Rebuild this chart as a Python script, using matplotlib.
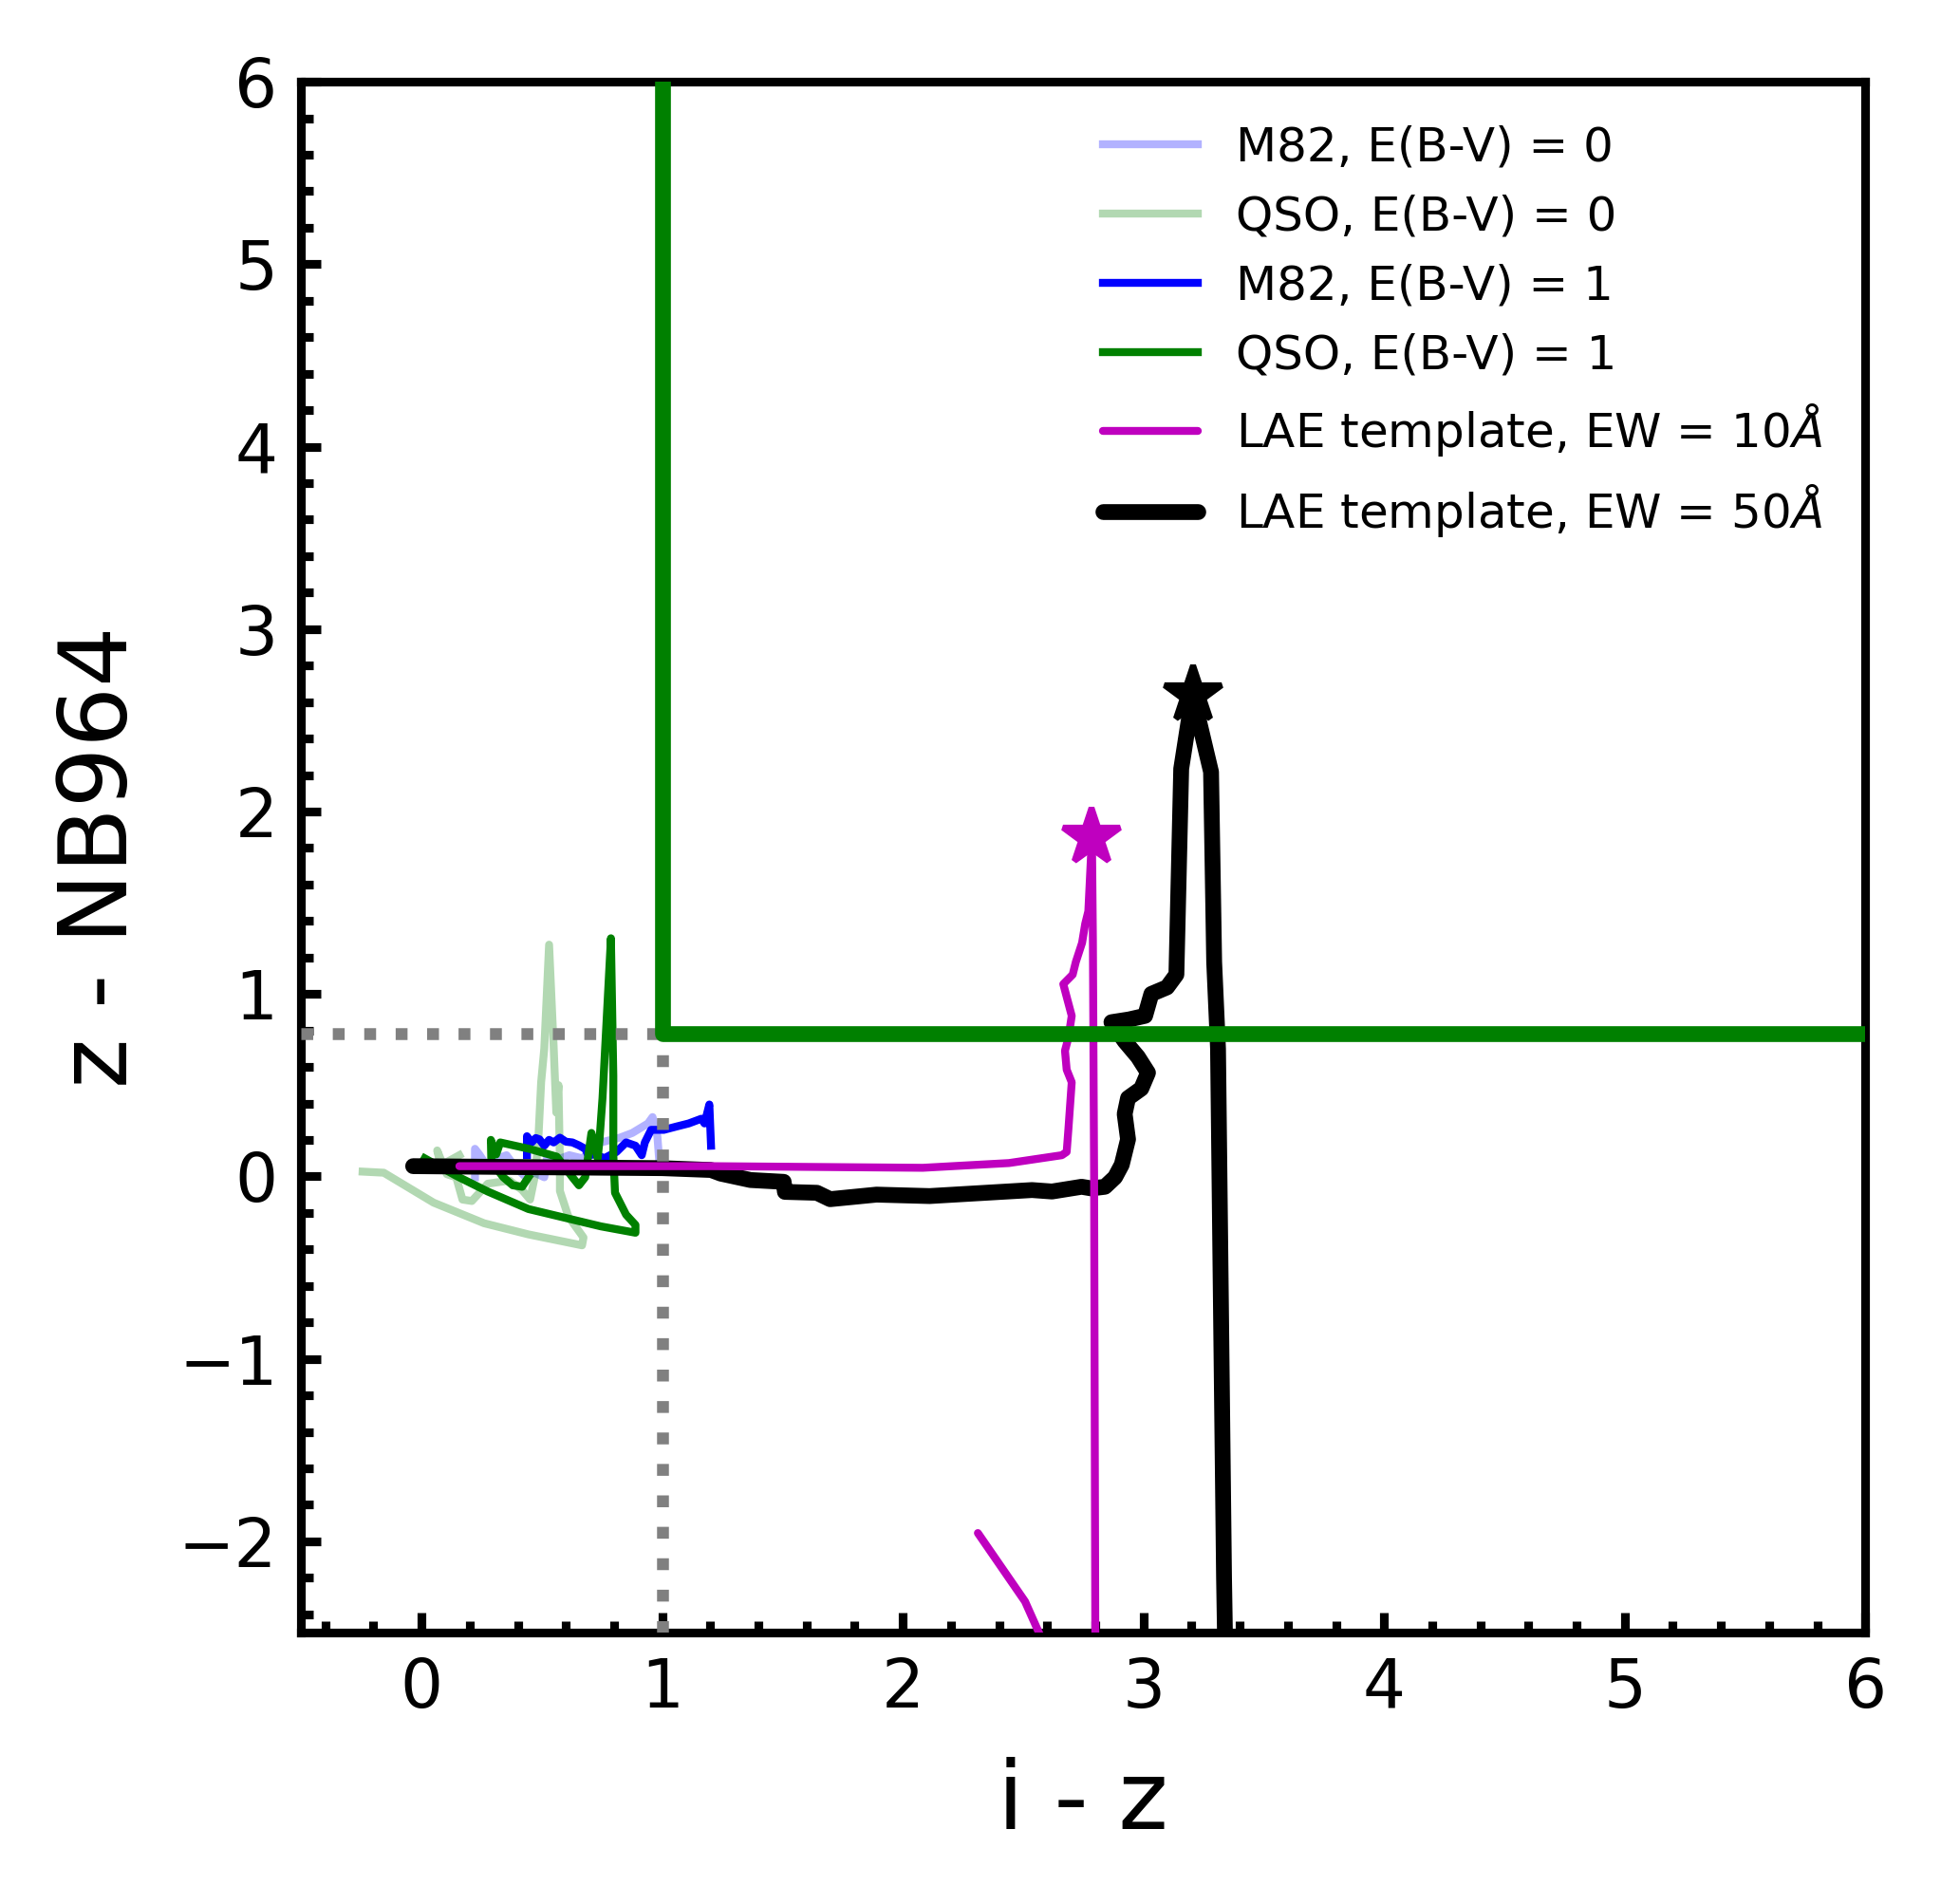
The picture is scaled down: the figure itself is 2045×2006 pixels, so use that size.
import numpy as np
import matplotlib
matplotlib.use("Agg")
import matplotlib.pyplot as plt

# colour tracks (i - z, z - NB964)
m82_e0_x = [0.222, 0.222, 0.24, 0.27, 0.30, 0.353, 0.39, 0.43, 0.47, 0.51, 0.523, 0.56,
            0.614, 0.667, 0.70, 0.745, 0.824, 0.876, 0.941, 0.96, 0.98, 0.987]
m82_e0_y = [-0.005, 0.151, 0.12, 0.06, 0.09, 0.116, 0.05, 0.0, 0.02, -0.005, 0.116, 0.09,
            0.116, 0.099, 0.13, 0.186, 0.212, 0.238, 0.29, 0.325, 0.22, 0.10]

qso_e0_x = [-0.245, -0.157, 0.05, 0.26, 0.444, 0.667, 0.673, 0.61, 0.575, 0.575, 0.569, 0.56,
            0.549, 0.53, 0.51, 0.497, 0.484, 0.47, 0.451, 0.418, 0.366, 0.275, 0.209, 0.17,
            0.144, 0.105, 0.065, 0.08, 0.157]
qso_e0_y = [0.026, 0.02, -0.144, -0.257, -0.318, -0.378, -0.335, -0.22, -0.08, 0.08, 0.5, 0.35,
            0.71, 1.27, 0.70, 0.516, 0.168, -0.005, -0.127, -0.075, -0.023, -0.04, -0.135, -0.127,
            -0.005, 0.012, 0.142, 0.06, 0.116]

m82_e1_x = [0.438, 0.438, 0.457, 0.475, 0.49, 0.51, 0.53, 0.549, 0.575, 0.60, 0.627, 0.654,
            0.68, 0.693, 0.72, 0.76, 0.81, 0.85, 0.889, 0.915, 0.928, 0.954, 1.007, 1.059,
            1.11, 1.163, 1.176, 1.196, 1.203]
m82_e1_y = [0.116, 0.22, 0.186, 0.21, 0.203, 0.168, 0.20, 0.186, 0.212, 0.19, 0.186, 0.17,
            0.151, 0.116, 0.12, 0.10, 0.134, 0.186, 0.168, 0.116, 0.186, 0.255, 0.255, 0.273,
            0.29, 0.316, 0.29, 0.394, 0.168]

qso_e1_x = [0.013, 0.144, 0.275, 0.444, 0.745, 0.889, 0.889, 0.85, 0.804, 0.797, 0.797, 0.787,
            0.77, 0.752, 0.739, 0.732, 0.706, 0.68, 0.654, 0.627, 0.562, 0.45, 0.327, 0.31,
            0.288, 0.29, 0.34, 0.379, 0.418, 0.444]
qso_e1_y = [0.099, 0.003, -0.083, -0.179, -0.274, -0.309, -0.266, -0.21, -0.09, 0.116, 0.55, 1.305,
            0.88, 0.43, 0.19, 0.099, 0.238, -0.005, -0.049, -0.005, 0.108, 0.15, 0.186, 0.12,
            0.20, 0.08, -0.005, -0.049, -0.057, -0.005]

lae10_x = [0.157, 1.2, 2.083, 2.441, 2.661, 2.681, 2.688, 2.702, 2.681, 2.674, 2.688, 2.702,
           2.681, 2.667, 2.706, 2.719, 2.745, 2.758, 2.771, 2.786, 2.79, 2.795, 2.80, 2.80,
           2.65, 2.508, 2.312]
lae10_y = [0.056, 0.056, 0.047, 0.073, 0.116, 0.134, 0.255, 0.516, 0.585, 0.689, 0.759, 0.88,
           0.984, 1.054, 1.106, 1.175, 1.28, 1.384, 1.453, 1.86, 1.3, 0.0, -2.5, -3.2,
           -2.75, -2.33, -1.955]

lae50_x = [-0.035, 0.5, 1.0, 1.203, 1.244, 1.367, 1.505, 1.51, 1.643, 1.698, 1.891, 2.111,
           2.537, 2.62, 2.743, 2.784, 2.84, 2.882, 2.91, 2.936, 2.922, 2.936, 2.991, 3.019,
           2.977, 2.922, 2.867, 2.94, 3.007, 3.033, 3.098, 3.137, 3.157, 3.205, 3.281, 3.294,
           3.31, 3.335, 3.345]
lae50_y = [0.056, 0.05, 0.045, 0.035, 0.015, -0.02, -0.03, -0.085, -0.09, -0.125, -0.1, -0.108,
           -0.075, -0.083, -0.057, -0.066, -0.057, -0.005, 0.064, 0.203, 0.342, 0.429, 0.481, 0.568,
           0.655, 0.741, 0.845, 0.86, 0.88, 1.0, 1.036, 1.106, 2.234, 2.64, 2.217, 1.175,
           0.7, -2.2, -3.0]

lae10_peak = (2.786, 1.86)
lae50_peak = (3.205, 2.64)

# selection cuts
iz_cut = 1.0
znb_cut = 0.78

fig = plt.figure(figsize=(2045 / 300, 2006 / 300), dpi=300)
ax = fig.add_axes([0.1552, 0.1426, 0.8058, 0.8145])

ax.plot(m82_e0_x, m82_e0_y, color="blue", alpha=0.3, lw=2, label="M82, E(B-V) = 0", zorder=2)
ax.plot(qso_e0_x, qso_e0_y, color="green", alpha=0.3, lw=2, label="QSO, E(B-V) = 0", zorder=2)
ax.plot(m82_e1_x, m82_e1_y, color="blue", lw=2, label="M82, E(B-V) = 1", zorder=3)
ax.plot(qso_e1_x, qso_e1_y, color="green", lw=2, label="QSO, E(B-V) = 1", zorder=3)
ax.plot(lae10_x, lae10_y, color="m", lw=2, label=r"LAE template, EW = 10$\AA$",
        zorder=5, solid_capstyle="round", solid_joinstyle="round")
ax.plot(lae50_x, lae50_y, color="k", lw=4, label=r"LAE template, EW = 50$\AA$",
        zorder=4, solid_capstyle="round", solid_joinstyle="round")
ax.plot(*lae10_peak, marker="*", ms=15, color="m", mew=1.5, zorder=5)
ax.plot(*lae50_peak, marker="*", ms=15, color="k", mew=1.5, zorder=4)

# selection region
ax.plot([-0.5, iz_cut], [znb_cut, znb_cut], ls=":", color="gray", lw=3, zorder=6)
ax.plot([iz_cut, iz_cut], [-2.5, znb_cut], ls=":", color="gray", lw=3, zorder=6)
ax.plot([iz_cut, iz_cut, 6], [6, znb_cut, znb_cut], color="green", lw=4, zorder=6)

ax.set_xlim(-0.5, 6)
ax.set_ylim(-2.5, 6)
ax.set_xticks(np.arange(0, 7, 1))
ax.set_yticks(np.arange(-2, 7, 1))
ax.set_xticks(np.arange(-0.4, 6.0, 0.2), minor=True)
ax.set_yticks(np.arange(-2.4, 6.0, 0.2), minor=True)
ax.tick_params(which="both", direction="in", width=2.2, labelsize=17, pad=6)
ax.tick_params(which="major", length=5)
ax.tick_params(which="minor", length=3)
for sp in ax.spines.values():
    sp.set_linewidth(2.2)

ax.set_xlabel("i - z", fontsize=24, labelpad=9)
ax.set_ylabel("z - NB964", fontsize=24, labelpad=8)

ax.legend(loc="upper right", frameon=False, fontsize=12, handlelength=2.0)

fig.savefig("out.png", dpi=300)
